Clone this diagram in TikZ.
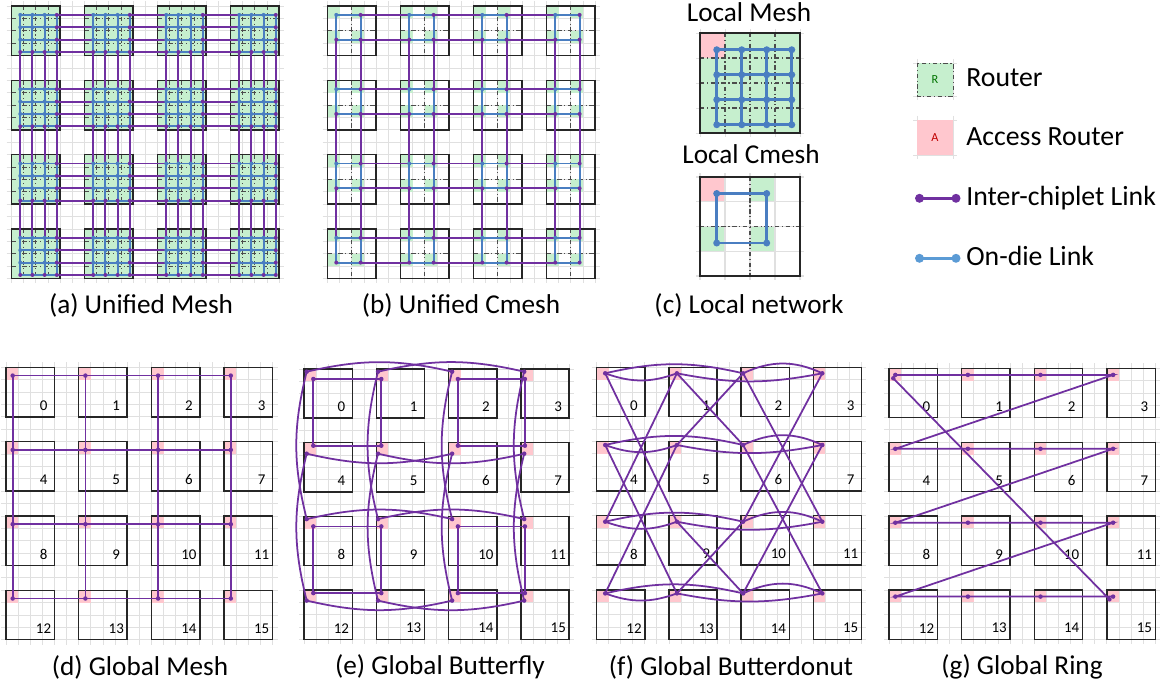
\documentclass[tikz,border=0pt]{standalone}
\usepackage{fontspec}
\setmainfont{Carlito}
\usetikzlibrary{calc}

\definecolor{rtgreen}{RGB}{198,239,206}
\definecolor{acpink}{RGB}{255,199,206}
\definecolor{interc}{RGB}{112,48,160}
\definecolor{ondie}{RGB}{74,126,193}
\definecolor{ondielt}{RGB}{91,155,213}
\definecolor{gridc}{RGB}{224,224,224}

\tikzset{
  bgline/.style={draw=gridc, line width=0.45pt},
  chipbox/.style={draw=black!85, line width=0.8pt},
  ddot/.style={draw=black!70, dash pattern=on 2.5pt off 1.5pt on 0.6pt off 1.5pt, line width=0.5pt},
  ilink/.style={draw=interc, line width=1pt},
  olink/.style={draw=ondie, line width=1.1pt},
  numlbl/.style={font=\fontsize{8.5}{9}\selectfont, inner sep=0pt},
  caption/.style={font=\fontsize{15.5}{18}\selectfont, inner sep=0pt},
  legtxt/.style={font=\fontsize{15.8}{18}\selectfont, anchor=base west, inner sep=0pt},
  legsym/.style={font=\fontsize{7}{8}\selectfont, inner sep=0pt},
}

% light background grid, 22 x 22 cells
\newcommand{\bggrid}[4]{%
  \foreach \k in {0,...,22}{
    \draw[bgline] ({#1+\k*#3/6},{#2-5}) -- ({#1+\k*#3/6},{#2+22*#4/6+5});
    \draw[bgline] ({#1-5},{#2+\k*#4/6}) -- ({#1+22*#3/6+5},{#2+\k*#4/6});
  }}

% 16 numbered chiplets, access router in the corner cell
\newcommand{\globalchiplets}[5]{%
  \bggrid{#2}{#3}{#4}{#5}
  \foreach \r in {0,...,3}{
    \foreach \c in {0,...,3}{
      \pgfmathtruncatemacro{\nn}{4*\r+\c}
      \coordinate (#1\nn) at ({#2+\c*#4},{#3+\r*#5});
      \fill[acpink] (#1\nn) rectangle ++({#4/6},{#5/6});
      \draw[chipbox] (#1\nn) rectangle ++({4*#4/6},{4*#5/6});
      \node[numlbl] (#1n\nn) at ($(#1\nn)+({3.1*#4/6},{3.1*#5/6})$) {\nn};
    }}}

\begin{document}
\begin{tikzpicture}[x=0.02cm, y=-0.02cm]
  \fill[white] (0,0) rectangle (1173,686);
  \useasboundingbox (0,0) rectangle (1173,686);
  %
  % (a) unified mesh
  \bggrid{11.5}{6}{73}{74.3}
  \foreach \r in {0,...,3}{
    \foreach \c in {0,...,3}{
      \coordinate (A\c\r) at ({11.5+\c*73},{6+\r*74.3});
      \fill[rtgreen] (A\c\r) rectangle ++(48.67,49.53);
      \foreach \k in {1,2,3}{
        \draw[ddot] ($(A\c\r)+(\k*12.17,0)$) -- ++(0,49.53);
        \draw[ddot] ($(A\c\r)+(0,\k*12.38)$) -- ++(48.67,0);
      }
      \draw[chipbox] (A\c\r) rectangle ++(48.67,49.53);
      \foreach \i in {0,...,3}{
        \foreach \j in {0,...,3}{
          \coordinate (a-\c-\r-\i-\j) at ($(A\c\r)+({(\i+0.72)*12.17},{(\j+0.72)*12.38})$);
        }}
    }}
  \foreach \r in {0,...,3}{
    \foreach \c [count=\cn] in {0,1,2}{
      \foreach \j in {0,...,3}{
        \draw[ilink, line width=1.1pt] (a-\c-\r-3-\j) -- (a-\cn-\r-0-\j);
        \draw[ilink, line width=1.1pt] (a-\r-\c-\j-3) -- (a-\r-\cn-\j-0);
      }}}
  \foreach \c in {0,...,3}{
    \foreach \r in {0,...,3}{
      \foreach \k in {0,...,3}{
        \draw[olink] (a-\c-\r-0-\k) -- (a-\c-\r-3-\k);
        \draw[olink] (a-\c-\r-\k-0) -- (a-\c-\r-\k-3);
      }
      \foreach \i in {0,...,3}{
        \foreach \j in {0,...,3}{
          \pgfmathtruncatemacro{\edge}{(\i==3)||(\j==3)}
          \ifnum\edge=1 \fill[interc] (a-\c-\r-\i-\j) circle[radius=0.04cm];
          \else \fill[ondie] (a-\c-\r-\i-\j) circle[radius=0.04cm]; \fi
        }}
    }}
  \node[caption] (capa) at (141,305) {(a) Unified Mesh};
  %
  % (b) unified cmesh
  \bggrid{327.5}{6}{73}{74.3}
  \foreach \r in {0,...,3}{
    \foreach \c in {0,...,3}{
      \coordinate (B\c\r) at ({327.5+\c*73},{6+\r*74.3});
      \foreach \i in {0,1}{
        \foreach \j in {0,1}{
          \fill[rtgreen] ($(B\c\r)+({2*\i*12.17},{2*\j*12.38})$) rectangle ++(12.17,12.38);
          \coordinate (b-\c-\r-\i-\j) at ($(B\c\r)+({(2*\i+0.72)*12.17},{(2*\j+0.72)*12.38})$);
        }}
      \draw[ddot] ($(B\c\r)+(24.34,0)$) -- ++(0,49.53);
      \draw[ddot] ($(B\c\r)+(0,24.76)$) -- ++(48.67,0);
      \draw[chipbox] (B\c\r) rectangle ++(48.67,49.53);
    }}
  \foreach \r in {0,...,3}{
    \foreach \c [count=\cn] in {0,1,2}{
      \foreach \j in {0,1}{
        \draw[ilink, line width=1.1pt] (b-\c-\r-1-\j) -- (b-\cn-\r-0-\j);
        \draw[ilink, line width=1.1pt] (b-\r-\c-\j-1) -- (b-\r-\cn-\j-0);
      }}}
  \foreach \c in {0,...,3}{
    \foreach \r in {0,...,3}{
      \draw[olink] (b-\c-\r-0-0) -- (b-\c-\r-1-0) -- (b-\c-\r-1-1) -- (b-\c-\r-0-1) -- cycle;
      \fill[ondie] (b-\c-\r-0-0) circle[radius=0.04cm];
      \foreach \i/\j in {1/0,0/1,1/1}
        \fill[interc] (b-\c-\r-\i-\j) circle[radius=0.04cm];
    }}
  \node[caption] (capb) at (461,305) {(b) Unified Cmesh};
  %
  % (c) local network
  \node[caption, anchor=base] (lmesh) at (749,21.7) {Local Mesh};
  \foreach \k in {0,...,4}{
    \draw[bgline] ({700+\k*25},29) -- ++(0,108);
    \draw[bgline] (696,{33+\k*25}) -- ++(108,0);
  }
  \fill[rtgreen] (700,33) rectangle (800,133);
  \fill[acpink] (700,33) rectangle (725,58);
  \foreach \k in {1,2,3}{
    \draw[ddot, line width=0.8pt] ({700+\k*25},33) -- ++(0,100);
    \draw[ddot, line width=0.8pt] (700,{33+\k*25}) -- ++(100,0);
  }
  \draw[chipbox, line width=1.2pt] (700,33) rectangle (800,133);
  \foreach \i in {0,...,3}{
    \foreach \j in {0,...,3}{
      \coordinate (m-\i-\j) at ({700+(\i+0.67)*25},{33+(\j+0.67)*25});
    }}
  \foreach \k in {0,...,3}{
    \draw[olink, line width=1.5pt] (m-0-\k) -- (m-3-\k);
    \draw[olink, line width=1.5pt] (m-\k-0) -- (m-\k-3);
  }
  \foreach \i in {0,...,3}{
    \foreach \j in {0,...,3}{
      \fill[ondie] (m-\i-\j) circle[radius=0.07cm];
    }}
  %
  \node[caption, anchor=base] (lcmesh) at (751,163.3) {Local Cmesh};
  \fill[acpink] (700,177) rectangle (725,201.75);
  \fill[rtgreen] (750,177) rectangle (775,201.75);
  \fill[rtgreen] (700,226.5) rectangle (725,251.25);
  \fill[rtgreen] (750,226.5) rectangle (775,251.25);
  \foreach \k in {0,...,4}{
    \draw[bgline, line width=0.8pt] ({700+\k*25},173) -- ++(0,107);
    \draw[bgline, line width=0.8pt] (696,{177+\k*24.75}) -- ++(108,0);
  }
  \draw[ddot, line width=0.8pt] (750,177) -- (750,276);
  \draw[ddot, line width=0.8pt] (700,226.5) -- (800,226.5);
  \draw[chipbox, line width=1.2pt] (700,177) rectangle (800,276);
  \coordinate (k-0-0) at (716.7,193.5);
  \coordinate (k-1-0) at (766.7,193.5);
  \coordinate (k-0-1) at (716.7,243);
  \coordinate (k-1-1) at (766.7,243);
  \draw[olink, line width=1.5pt] (k-0-0) -- (k-1-0) -- (k-1-1) -- (k-0-1) -- cycle;
  \foreach \i/\j in {0/0,1/0,0/1,1/1}
    \fill[ondie] (k-\i-\j) circle[radius=0.07cm];
  \node[caption] (capc) at (749,305) {(c) Local network};
  %
  % legend
  \draw[bgline] (913,63) -- (957,63) (913,96) -- (957,96) (917,59) -- (917,100) (953,59) -- (953,100);
  \fill[rtgreen] (917,63) rectangle (953,96);
  \draw[ddot] (917,63) rectangle (953,96);
  \node[legsym, text=green!45!black] (legR) at (935,79.5) {R};
  \node[legtxt] (legRt) at (966,86.7) {Router};
  \draw[bgline] (913,120) -- (957,120) (913,155) -- (957,155) (917,116) -- (917,159) (953,116) -- (953,159);
  \fill[acpink] (917,120) rectangle (953,155);
  \node[legsym, text=red!75!black] (legA) at (935,137.5) {A};
  \node[legtxt] (legAt) at (966,146) {Access Router};
  \coordinate (li1) at (919.5,198.3);
  \coordinate (li2) at (956,198.3);
  \draw[ilink, line width=1.6pt] (li1) -- (li2);
  \fill[interc] (li1) circle[radius=0.09cm] (li2) circle[radius=0.09cm];
  \node[legtxt] (legIt) at (966,205.7) {Inter-chiplet Link};
  \coordinate (lo1) at (919.5,258.3);
  \coordinate (lo2) at (956,258.3);
  \draw[draw=ondielt, line width=1.6pt] (lo1) -- (lo2);
  \fill[ondielt] (lo1) circle[radius=0.09cm] (lo2) circle[radius=0.09cm];
  \node[legtxt] (legOt) at (966,265) {On-die Link};
  %
  % (d) global mesh
  \globalchiplets{d}{6}{367.3}{72.7}{74.3}
  \foreach \nn in {0,...,15}
    \coordinate (dR\nn) at ($(d\nn)+(6.7,8.3)$);
  \draw[ilink] (dR0) -- (dR1) -- (dR2) -- (dR3);
  \draw[ilink] (dR4) -- (dR5) -- (dR6) -- (dR7);
  \draw[ilink] (dR8) -- (dR9) -- (dR10) -- (dR11);
  \draw[ilink] (dR12) -- (dR13) -- (dR14) -- (dR15);
  \draw[ilink] (dR0) -- (dR4) -- (dR8) -- (dR12);
  \draw[ilink] (dR1) -- (dR5) -- (dR9) -- (dR13);
  \draw[ilink] (dR2) -- (dR6) -- (dR10) -- (dR14);
  \draw[ilink] (dR3) -- (dR7) -- (dR11) -- (dR15);
  \foreach \nn in {0,...,15}
    \fill[interc] (dR\nn) circle[radius=0.045cm];
  \node[caption] (capd) at (140,667) {(d) Global Mesh};
  %
  % (e) global butterfly
  \globalchiplets{e}{304}{369}{72.3}{73.7}
  \foreach \c/\xi/\xc in {0/9.3/2.7,1/5/1.7,2/9.3/3.5,3/4/3.3}{
    \foreach \r/\yi/\yc in {0/10/2.7,1/3/11,2/10/2.7,3/3/10.5}{
      \pgfmathtruncatemacro{\nn}{4*\r+\c}
      \coordinate (eI\nn) at ($(e\nn)+(\xi,\yi)$);
      \coordinate (eC\nn) at ($(e\nn)+(\xc,\yc)$);
    }}
  \draw[ilink] (eI0) -- (eI1) -- (eI5) -- (eI4) -- cycle;
  \draw[ilink] (eI2) -- (eI3) -- (eI7) -- (eI6) -- cycle;
  \draw[ilink] (eI8) -- (eI9) -- (eI13) -- (eI12) -- cycle;
  \draw[ilink] (eI10) -- (eI11) -- (eI15) -- (eI14) -- cycle;
  \foreach \p/\q in {0/2,1/3,8/10,9/11}
    \draw[ilink] (eC\p) to[bend left=13] (eC\q);
  \foreach \p/\q in {4/6,5/7,12/14,13/15}
    \draw[ilink] (eC\p) to[bend right=13] (eC\q);
  \foreach \p/\q in {0/8,4/12,1/9,5/13,2/10,6/14,3/11,7/15}
    \draw[ilink] (eC\p) to[bend right=14] (eC\q);
  \foreach \nn in {0,...,15}
    \fill[interc] (eI\nn) circle[radius=0.045cm] (eC\nn) circle[radius=0.045cm];
  \node[caption] (cape) at (440,667) {(e) Global Butterfly};
  %
  % (f) global butterdonut
  \globalchiplets{f}{596.7}{367.3}{72.2}{74.2}
  \foreach \c/\xo in {0/8.5,1/8,2/2,3/9}{
    \foreach \r/\yo in {0/6,1/3.5,2/6,3/3.5}{
      \pgfmathtruncatemacro{\nn}{4*\r+\c}
      \coordinate (fR\nn) at ($(f\nn)+(\xo,\yo)$);
    }}
  \foreach \pa/\pb/\pc/\pd in {0/1/2/3,4/5/6/7,8/9/10/11,12/13/14/15}{
    \draw[ilink] (fR\pa) to[bend left=13] (fR\pc);
    \draw[ilink] (fR\pc) to[bend left=25] (fR\pd);
    \draw[ilink] (fR\pa) to[bend right=20] (fR\pb);
    \draw[ilink] (fR\pb) to[bend right=11] (fR\pd);
  }
  \foreach \p/\q in {0/9,1/8,4/13,5/12,2/11,3/10,6/15,7/14,1/6,2/5,9/14,10/13}
    \draw[ilink] (fR\p) -- (fR\q);
  \foreach \nn in {0,...,15}
    \fill[interc] (fR\nn) circle[radius=0.045cm];
  \node[caption] (capf) at (731,667) {(f) Global Butterdonut};
  %
  % (g) global ring
  \globalchiplets{g}{889}{368.3}{72.6}{73.9}
  \foreach \nn in {0,...,15}
    \coordinate (gR\nn) at ($(g\nn)+(6.3,6.6)$);
  \coordinate (gA) at ($(g0)+(4.3,10)$);
  \coordinate (gB) at ($(g15)+(2.6,9.3)$);
  \draw[ilink] (gR0) -- (gR1) -- (gR2) -- (gR3) -- (gR4) -- (gR5) -- (gR6) -- (gR7)
    -- (gR8) -- (gR9) -- (gR10) -- (gR11) -- (gR12) -- (gR13) -- (gR14) -- (gR15);
  \draw[ilink] (gB) -- (gA);
  \foreach \nn in {0,...,15}
    \fill[interc] (gR\nn) circle[radius=0.045cm];
  \fill[interc] (gA) circle[radius=0.045cm] (gB) circle[radius=0.045cm];
  \node[caption] (capg) at (1022,667) {(g) Global Ring};
  %
\end{tikzpicture}
\end{document}
